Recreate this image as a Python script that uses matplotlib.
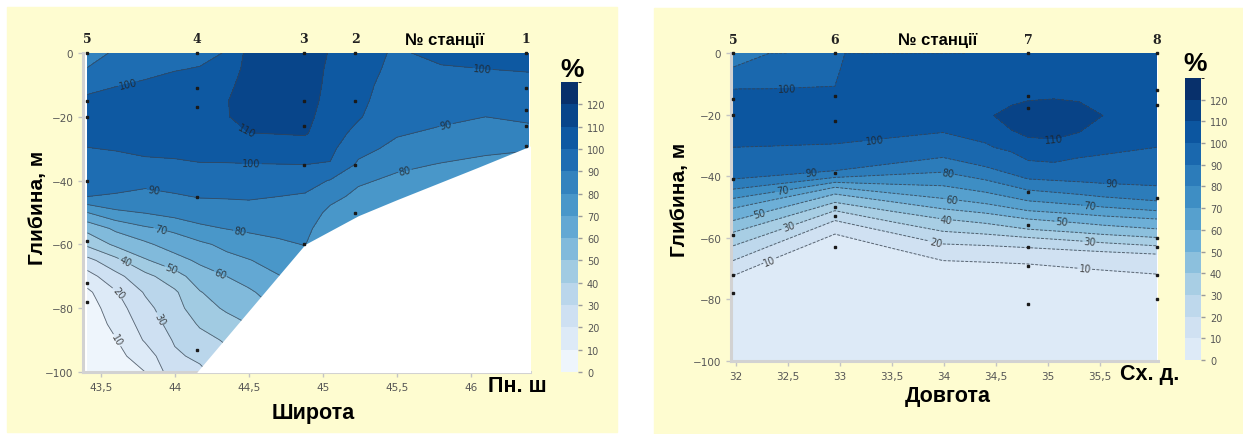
import numpy as np
import matplotlib
matplotlib.use('Agg')
import matplotlib.pyplot as plt
import matplotlib.tri as mtri
from matplotlib.colors import ListedColormap, BoundaryNorm
from matplotlib.patches import Rectangle
from matplotlib.ticker import FuncFormatter

W, H = 1243, 435
CREAM = '#FEFCD0'
LINE_C = '#3a4450'
TICK_C = '#555555'
SANS = ['Liberation Sans', 'DejaVu Sans']
LEVELS = list(range(0, 131, 10))

# ── left section: latitude x depth, values on a station grid ───────────────────
LAT_COLS = [43.41, 43.6, 43.8, 44.0, 44.17, 44.35, 44.5, 44.7, 44.88, 45.05, 45.24, 45.5, 45.8, 46.1, 46.39]
DEPTH_ROWS = [0, -5, -10, -15, -20, -25, -30, -35, -40, -45, -50,
              -55, -60, -65, -70, -75, -80, -85, -90, -95, -100]
LAT_PROFILES = [
    [87, 90.3, 97, 102, 105, 103, 99.7, 96.7, 93.3, 90, 70, 53, 42, 27, 16, 8, 5, 4, 3, 3, 2],
    [91, 95, 99.6, 103, 106, 104, 100.5, 96.9, 94, 89, 78, 62, 52, 37, 27, 19, 15.5, 12.5, 9.5, 7, 5],
    [94, 98, 101, 105, 107, 105, 102, 98, 92.5, 87.5, 80.5, 68.5, 58, 49, 37, 31, 27, 24, 21, 15, 10],
    [96, 99.5, 103, 106, 108, 106, 102.5, 98.5, 94, 89, 84, 72, 65, 56, 46, 38.5, 36.5, 34, 31, 28.5, 26],
    [97.5, 100.5, 104, 107, 109, 106.5, 103, 99.5, 95, 90.5, 85, 78, 68, 62, 55, 49.5, 45.5, 41, 37, 32, 28],
    [100.5, 103, 107, 109.5, 109.5, 107, 103.5, 99.5, 95, 90.7, 86, 80.3, 72.5, 67, 60, 55, 51.5, 46, 41, 38, 35],
    [113, 114, 115, 115, 113, 110, 104, 99.7, 95, 91, 86.5, 81.5, 76, 69.5, 64, 58.5, 54, 50, 46, 42, 38],
    [114, 116, 116, 115, 113, 110.5, 105, 99.8, 95, 90, 86.5, 82.5, 78.5, 74, 69.5, 65, 61, 57, 53, 49, 45],
    [114, 116, 116, 115, 113, 111, 105.5, 100, 93.5, 89, 86, 83, 80.3, 77, 74, 71, 68, 65, 62, 59, 56],
    [109.5, 108, 107, 106, 105, 104, 102, 99.5, 89.5, 83, 77.5, 73, 70.5, 68, 66, 64, 62, 60, 58, 56, 54],
    [103, 103, 102.5, 102, 100.8, 97.5, 93, 88.5, 81.5, 77.5, 75, 73, 72, 72, 72, 72, 72, 72, 72, 72, 72],
    [99, 98, 96.5, 95, 93.5, 91, 87.5, 82, 78, 75.5, 74, 73, 72, 72, 72, 72, 72, 72, 72, 72, 72],
    [102, 99.3, 97, 95, 92, 88.5, 84, 79.5, 77, 75, 74, 73, 72, 72, 72, 72, 72, 72, 72, 72, 72],
    [103, 100, 97.5, 94.5, 90, 86, 81.5, 78, 76, 74, 73, 72, 72, 72, 72, 72, 72, 72, 72, 72, 72],
    [104, 100.5, 98, 95.5, 92, 87, 80.5, 77, 75, 74, 73, 72, 72, 72, 72, 72, 72, 72, 72, 72, 72],
]
SEABED_LAT = [44.15, 44.88, 45.0, 45.24, 45.5, 45.77, 46.04, 46.41]
SEABED_DEPTH = [-100, -60, -57, -51, -46, -41, -36, -29]

ST_L_LAT = [43.41, 44.15, 44.87, 45.22, 46.37]
ST_L_NAME = ['5', '4', '3', '2', '1']
ST_L_SAMPLES = [[0, -15, -20, -40, -59, -72, -78],
                [0, -11, -17, -45, -93],
                [0, -15, -23, -35, -60],
                [0, -15, -35, -50],
                [0, -11, -18, -23, -29]]

LABELS_L = {100: [(43.68, -9.1), (44.52, -34.2), (46.08, -5.3)], 110: [(44.51, -22.9)],
            90: [(43.86, -42), (45.83, -22)], 80: [(44.44, -56), (45.55, -36)],
            70: [(43.91, -54)], 60: [(44.31, -69)], 50: [(43.98, -67)], 40: [(43.68, -64)],
            30: [(43.91, -83)], 20: [(43.62, -75)], 10: [(43.61, -90)]}

# ── right section: longitude x depth, readings per column ──────────────────────
R_LON = [31.97, 32.35, 32.95, 33.06, 33.5, 33.99, 34.4, 34.48, 34.65, 34.81, 35.06, 35.3, 35.53, 36.05]
R_DEPTHS = [
    [0, -4.6, -11.7, -20, -30.6, -40.9, -44.2, -47.2, -50.4, -54.4, -58.2, -62.6, -67.4, -72.3, -85, -100],
    [0, -11.6, -20, -30.2, -39.85, -42.7, -45.2, -47.7, -51.0, -54.4, -58.2, -62.3, -67.0, -80, -100],
    [0, -10.8, -20, -29.5, -38.2, -40.4, -42, -43.6, -45.8, -48.5, -51.2, -54.4, -58.8, -70, -100],
    [0, -10, -20, -29.1],
    [0, -15, -27.5, -35.9, -39.5, -42.6, -45.5, -48.3, -51.4, -54.8, -58.4, -63.4, -75, -100],
    [0, -10, -18, -25.8, -33.9, -38.7, -43.1, -47.2, -50.6, -53.9, -57.9, -62, -67.4, -80, -100],
    [0, -18, -29.2, -36.9, -41.2, -45.2, -48.9, -52.0, -55.3, -58.8, -62.5, -67.9, -80, -100],
    [0, -20.3, -30.6],
    [0, -17, -21, -25, -32.1],
    [0, -15.5, -21, -27.4, -34.9, -40.9, -44.5, -48, -51.2, -53.9, -57.2, -59.9, -63.2, -68.5, -85, -100],
    [0, -14.9, -21, -27.9, -35.5],
    [0, -15.8, -21, -25.8, -34, -41.8, -45.9, -49.3, -52.3, -55.2, -58.3, -61, -64.1, -69.9, -85, -100],
    [0, -20.3, -33, -42.3, -46.7, -50, -52.9, -55.9, -58.9, -61.6, -64.5, -70.5, -85, -100],
    [0, -15, -30.6, -43.1, -48, -51.2, -53.9, -57.1, -59.9, -62.6, -65.3, -71.8, -85, -100],
]
R_VALUES = [
    [87, 90, 100, 104, 100, 90, 80, 70, 60, 50, 40, 30, 20, 10, 6, 5],
    [90.2, 100, 104.5, 100, 90, 80, 70, 60, 50, 40, 30, 20, 10, 6, 5],
    [96, 100, 106, 100, 90, 80, 70, 60, 50, 40, 30, 20, 10, 6, 5],
    [100.5, 104, 106.5, 100],
    [103, 106, 100, 90, 80, 70, 60, 50, 40, 30, 20, 10, 6, 5],
    [103, 105, 107, 100, 90, 80, 70, 60, 50, 40, 30, 20, 10, 6, 5],
    [104, 108, 100, 90, 80, 70, 60, 50, 40, 30, 20, 10, 6, 5],
    [104, 110, 100],
    [104.5, 110, 112, 110, 100],
    [105, 110, 114, 110, 100, 90, 80, 70, 60, 50, 40, 30, 20, 10, 6, 5],
    [105, 110, 114, 110, 100],
    [105, 110, 113, 110, 100, 90, 80, 70, 60, 50, 40, 30, 20, 10, 6, 5],
    [104.5, 110, 100, 90, 80, 70, 60, 50, 40, 30, 20, 10, 6, 5],
    [104, 105, 100, 90, 80, 70, 60, 50, 40, 30, 20, 10, 6, 5],
]

ST_R_LON = [31.97, 32.95, 34.81, 36.05]
ST_R_NAME = ['5', '6', '7', '8']
ST_R_SAMPLES = [[0, -15, -20, -41, -59, -72, -78],
                [0, -14, -22, -39, -50, -53, -63],
                [0, -14, -18, -45, -56, -63, -69, -81.5],
                [0, -12, -17, -47, -60, -63, -72, -80]]

LABELS_R = {100: [(32.49, -11.5), (33.33, -27.9)], 110: [(35.06, -27.9)],
            90: [(32.72, -38.7), (35.61, -42)], 80: [(34.04, -38.7)],
            70: [(32.45, -44.4), (35.40, -49.6)], 60: [(34.08, -47.2)],
            50: [(32.22, -51.2), (35.13, -54.8)], 40: [(34.02, -53.9)],
            30: [(32.51, -56.1), (35.40, -61.3)], 20: [(33.92, -61.8)],
            10: [(32.33, -68), (35.36, -69)]}


def px(x0, y0, x1, y1):
    return [x0 / W, 1 - y1 / H, (x1 - x0) / W, (y1 - y0) / H]


def comma(v, _):
    return f'{v:g}'.replace('.', ',')


def style(ax, xlim, xticks):
    ax.set_xlim(*xlim); ax.set_ylim(-100, 0)
    ax.set_xticks(xticks); ax.set_yticks([0, -20, -40, -60, -80, -100])
    ax.xaxis.set_major_formatter(FuncFormatter(comma))
    ax.tick_params(labelsize=7.5, labelcolor=TICK_C, color='#c4c4c4', length=3.5, width=1)
    for s in ['top', 'right']:
        ax.spines[s].set_visible(False)
    for s in ['left', 'bottom']:
        ax.spines[s].set_color('#d2d2d2'); ax.spines[s].set_linewidth(2.2)
    ax.set_facecolor('white')


def stations(ax, lons, names, samples):
    for lon, nm, deps in zip(lons, names, samples):
        ax.plot([lon] * len(deps), deps, 's', ms=1.8, color='#1a1a1a', zorder=6, clip_on=False)
        ax.text(lon, 1.045, nm, transform=ax.get_xaxis_transform(), ha='center', va='center',
                fontsize=9, fontweight='bold', family='DejaVu Serif', color='#222222')


def contour_lines(draw, spec, **kw):
    # one contour set per level so manual label placement picks the right line
    for lev in LEVELS[1:-1]:
        cs = draw(levels=[lev], colors=LINE_C, zorder=2, **kw)
        if lev in spec:
            cs.clabel(levels=[lev], manual=spec[lev], inline=True, inline_spacing=1,
                      fontsize=7, fmt='%d', colors='#222222')


def colorbar(fig, cf, rect):
    cax = fig.add_axes(rect)
    cb = fig.colorbar(cf, cax=cax, ticks=LEVELS[:-1])
    cb.outline.set_visible(False)
    cb.ax.tick_params(labelsize=7, labelcolor=TICK_C, color='#9a9a9a', length=3, width=1)
    return cb


fig = plt.figure(figsize=(W / 100, H / 100), dpi=100)
fig.add_artist(Rectangle((7 / W, 1 - 433 / H), 610 / W, 425 / H, transform=fig.transFigure,
                         color=CREAM, zorder=-5))
fig.add_artist(Rectangle((654 / W, 0), 589 / W, 426 / H, transform=fig.transFigure,
                         color=CREAM, zorder=-5))

# ── left panel ────────────────────────────────────────────────────────────────
cmap_l = ListedColormap(plt.cm.Blues(np.linspace(0.05, 1.0, 13)))
norm = BoundaryNorm(LEVELS, 13)
ax1 = fig.add_axes(px(83, 54, 530, 373))
Z1 = np.array(LAT_PROFILES).T
cf1 = ax1.contourf(LAT_COLS, DEPTH_ROWS, Z1, levels=LEVELS, cmap=cmap_l, norm=norm, zorder=1)
contour_lines(lambda **k: ax1.contour(LAT_COLS, DEPTH_ROWS, Z1, **k), LABELS_L,
              linewidths=0.6, alpha=0.8)
ax1.fill_between(SEABED_LAT, SEABED_DEPTH, -101, color='white', lw=0, zorder=3)
style(ax1, (43.38, 46.40), [43.5, 44, 44.5, 45, 45.5, 46])
stations(ax1, ST_L_LAT, ST_L_NAME, ST_L_SAMPLES)
colorbar(fig, cf1, px(561, 83, 578, 373))

# ── right panel ───────────────────────────────────────────────────────────────
# triangulate in a warped space (depth above the lower 100 % line, value below it)
# so equal levels of neighbouring columns get joined
cmap_r = ListedColormap(plt.cm.Blues(np.linspace(0.13, 1.0, 13)))
r_lon, r_dep, r_val, r_warp = [], [], [], []
for lon, deps, vals in zip(R_LON, R_DEPTHS, R_VALUES):
    d100 = min(d for d, v in zip(deps, vals) if v == 100)
    for d, v in zip(deps, vals):
        r_lon.append(lon); r_dep.append(d); r_val.append(v)
        r_warp.append(d - d100 if d >= d100 else v - 100)
r_lon, r_dep, r_val = np.array(r_lon), np.array(r_dep, float), np.array(r_val, float)
tri = mtri.Triangulation(r_lon, r_dep,
                         triangles=mtri.Triangulation(r_lon * 30, np.array(r_warp)).triangles)
ax2 = fig.add_axes(px(731, 54, 1158, 362))
cf2 = ax2.tricontourf(tri, r_val, levels=LEVELS, cmap=cmap_r, norm=norm, zorder=1)
contour_lines(lambda **k: ax2.tricontour(tri, r_val, **k), LABELS_R,
              linewidths=0.7, linestyles=[(0, (3, 1.5))], alpha=0.8)
style(ax2, (31.95, 36.06), [32, 32.5, 33, 33.5, 34, 34.5, 35, 35.5])
stations(ax2, ST_R_LON, ST_R_NAME, ST_R_SAMPLES)
colorbar(fig, cf2, px(1185, 79, 1201, 361))

# ── text ──────────────────────────────────────────────────────────────────────
def ftext(x, y, s, size, **kw):
    fig.text(x / W, 1 - y / H, s, fontsize=size, fontweight='bold', family=SANS,
             ha='center', va='center', **kw)

ftext(445, 40, '№ станції', 12)
ftext(938, 40, '№ станції', 12)
ftext(572, 70, '%', 19)
ftext(1195, 64, '%', 19)
ftext(38, 208, 'Глибина, м', 15, rotation=90)
ftext(680, 200, 'Глибина, м', 15, rotation=90)
ftext(313, 414, 'Широта', 15.5)
ftext(517, 387, 'Пн. ш', 15.5)
ftext(948, 397, 'Довгота', 15.5)
ftext(1150, 375, 'Сх. д.', 15.5)

fig.savefig('out.png', dpi=100, facecolor='white')
